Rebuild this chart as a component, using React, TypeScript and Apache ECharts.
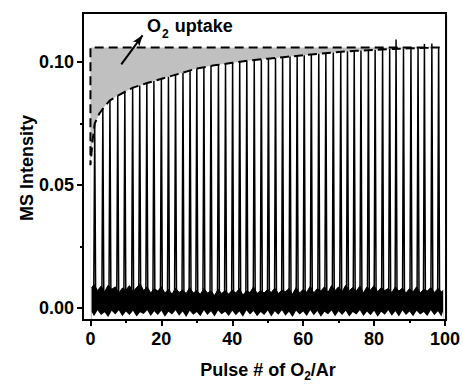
import React, { useEffect, useRef } from "react";
import * as echarts from "echarts";

// ---- data ----
const pulseX = [
  1.2, 3.5, 5.5, 7.7, 9.7, 11.9, 13.9, 15.9, 17.9, 20.0,
  22.0, 24.0, 26.1, 28.1, 30.0, 32.0, 34.0, 36.1, 38.1, 40.1,
  42.1, 44.1, 46.2, 48.2, 50.2, 52.2, 54.2, 56.3, 58.3, 60.3,
  62.3, 64.4, 66.4, 68.5, 70.6, 72.5, 74.4, 76.3, 78.4, 80.3,
  82.4, 84.4, 86.2, 88.3, 90.4, 92.4, 94.2, 96.3, 98.2,
];
const pulsePeak = [
  0.075, 0.081, 0.0844, 0.0864, 0.0879, 0.0895, 0.0905, 0.0915, 0.0923, 0.0932,
  0.094, 0.0948, 0.0957, 0.0966, 0.0974, 0.0979, 0.0984, 0.0989, 0.0993, 0.0997,
  0.1001, 0.1005, 0.1009, 0.1011, 0.1014, 0.1017, 0.102, 0.1023, 0.1026, 0.1028,
  0.1031, 0.1034, 0.1037, 0.1039, 0.1042, 0.1044, 0.1045, 0.1047, 0.1049, 0.105,
  0.1051, 0.1053, 0.1092, 0.1055, 0.1056, 0.1057, 0.1074, 0.1076, 0.1062,
];
const pulseBase = 0.002;

const envelopeX = [0, 0.6, 1.2, 2.5, 4, 5.5, 8, 12, 16, 21.5, 26, 30, 35, 40, 45, 50, 55, 60, 65, 70, 75, 80, 85, 90, 95, 98.5];
const envelopeY = [0.058, 0.068, 0.075, 0.079, 0.082, 0.0844, 0.0866, 0.0896, 0.0915, 0.0938, 0.0957, 0.0974, 0.0987, 0.0997, 0.1007, 0.1014, 0.1021, 0.1028, 0.1035, 0.1041, 0.1046, 0.105, 0.1053, 0.1056, 0.1058, 0.106];

const uptakeX = [0, 98.5];
const uptakeY = [0.106, 0.106];

const noiseX = [
  0.3, 1, 2, 3, 4, 5, 6, 7, 8, 9,
  10, 11, 12, 13, 14, 15, 16, 17, 18, 19,
  20, 21, 22, 23, 24, 25, 26, 27, 28, 29,
  30, 31, 32, 33, 34, 35, 36, 37, 38, 39,
  40, 41, 42, 43, 44, 45, 46, 47, 48, 49,
  50, 51, 52, 53, 54, 55, 56, 57, 58, 59,
  60, 61, 62, 63, 64, 65, 66, 67, 68, 69,
  70, 71, 72, 73, 74, 75, 76, 77, 78, 79,
  80, 81, 82, 83, 84, 85, 86, 87, 88, 89,
  90, 91, 92, 93, 94, 95, 96, 97, 98, 99,
  99.5,
];
const noiseTop = [
  0.008, 0.0095, 0.007, 0.0088, 0.0065, 0.0092, 0.0075, 0.0085, 0.006, 0.008,
  0.0072, 0.009, 0.0065, 0.0082, 0.0098, 0.007, 0.0085, 0.006, 0.0078, 0.0068,
  0.0085, 0.006, 0.0075, 0.0055, 0.008, 0.0062, 0.0072, 0.0058, 0.0082, 0.006,
  0.007, 0.0055, 0.0078, 0.006, 0.0068, 0.005, 0.0075, 0.0058, 0.007, 0.0055,
  0.0072, 0.006, 0.0078, 0.0052, 0.0068, 0.0062, 0.0085, 0.0058, 0.007, 0.006,
  0.0075, 0.0062, 0.008, 0.0058, 0.0072, 0.0065, 0.0078, 0.0055, 0.0082, 0.006,
  0.0075, 0.0063, 0.0088, 0.006, 0.0078, 0.0068, 0.0085, 0.0062, 0.009, 0.007,
  0.0085, 0.0065, 0.0092, 0.007, 0.0082, 0.0068, 0.0088, 0.006, 0.0085, 0.0072,
  0.009, 0.0065, 0.0082, 0.007, 0.0078, 0.0062, 0.0085, 0.0068, 0.008, 0.006,
  0.0078, 0.0065, 0.0085, 0.006, 0.0075, 0.0068, 0.0082, 0.0062, 0.0078, 0.0065,
  0.007,
];
const noiseBottom = [
  -0.0015, -0.0035, -0.001, -0.003, -0.0018, -0.0038, -0.0012, -0.0028, -0.001, -0.0035,
  -0.0015, -0.003, -0.0012, -0.0036, -0.0018, -0.0026, -0.001, -0.0034, -0.0014, -0.003,
  -0.0012, -0.0037, -0.0016, -0.0028, -0.001, -0.0033, -0.0015, -0.0038, -0.0012, -0.0029,
  -0.0017, -0.0035, -0.001, -0.003, -0.0014, -0.0036, -0.0011, -0.0027, -0.0016, -0.0034,
  -0.0012, -0.0031, -0.0015, -0.0037, -0.001, -0.0028, -0.0013, -0.0035, -0.0017, -0.003,
  -0.0011, -0.0036, -0.0014, -0.0029, -0.001, -0.0033, -0.0016, -0.0038, -0.0012, -0.0028,
  -0.0015, -0.0034, -0.001, -0.0031, -0.0013, -0.0037, -0.0016, -0.0027, -0.0011, -0.0035,
  -0.0014, -0.003, -0.0012, -0.0036, -0.0017, -0.0028, -0.001, -0.0034, -0.0015, -0.0031,
  -0.0012, -0.0037, -0.0016, -0.0029, -0.001, -0.0033, -0.0014, -0.0036, -0.0011, -0.003,
  -0.0015, -0.0035, -0.0012, -0.0028, -0.0017, -0.0034, -0.001, -0.0031, -0.0014, -0.0036,
  -0.0012,
];

const xTicks = [0, 20, 40, 60, 80, 100];
const xMinorTicks = [10, 30, 50, 70, 90];
const yTicks = [0, 0.05, 0.1];
const yMinorTicks = [0.025, 0.075];

const arrowFrom = [8.7, 0.0991];
const arrowTo = [14.7, 0.1109];

const FONT = "'Liberation Sans', Arial, Helvetica, sans-serif";

export default function App() {
  const ref = useRef<HTMLDivElement>(null);

  useEffect(() => {
    document.body.style.margin = "0";
    const chart = echarts.init(ref.current!, null, { renderer: "svg" });

    const spikeHalf = 0.28;
    const spikeData: number[][] = [];
    pulseX.forEach((x, i) => {
      spikeData.push([x - spikeHalf, pulseBase]);
      spikeData.push([x, pulsePeak[i]]);
      spikeData.push([x + spikeHalf, pulseBase]);
    });

    const envelope = envelopeX.map((x, i) => [x, envelopeY[i]]);
    const boundary = [
      [uptakeX[1], uptakeY[1]],
      [uptakeX[0], uptakeY[0]],
      ...envelope,
    ];

    const tickLabel = {
      fontSize: 18,
      fontWeight: "bold" as const,
      fontFamily: FONT,
      color: "#000",
    };

    const option: any = {
      animation: false,
      backgroundColor: "#fff",
      grid: {
        left: 83,
        top: 13,
        width: 363.5,
        height: 307,
        show: true,
        borderColor: "#000",
        borderWidth: 2,
        backgroundColor: "transparent",
      },
      xAxis: [
        {
          type: "value",
          min: -2.1,
          max: 100.3,
          position: "bottom",
          z: 10,
          axisLine: { show: true, onZero: false, lineStyle: { color: "#000", width: 2 } },
          axisTick: { show: true, customValues: xTicks, length: 6, lineStyle: { color: "#000", width: 2 } },
          axisLabel: { ...tickLabel, customValues: xTicks, margin: 10 },
          splitLine: { show: false },
        },
        {
          type: "value",
          min: -2.1,
          max: 100.3,
          position: "bottom",
          z: 10,
          axisLine: { show: false, onZero: false },
          axisTick: { show: true, customValues: xMinorTicks, length: 3, lineStyle: { color: "#000", width: 2 } },
          axisLabel: { show: false },
          splitLine: { show: false },
        },
      ],
      yAxis: [
        {
          type: "value",
          min: -0.005,
          max: 0.12,
          position: "left",
          z: 10,
          axisLine: { show: true, onZero: false, lineStyle: { color: "#000", width: 2 } },
          axisTick: { show: true, customValues: yTicks, length: 6, lineStyle: { color: "#000", width: 2 } },
          axisLabel: {
            ...tickLabel,
            customValues: yTicks,
            margin: 9,
            formatter: (v: number) => v.toFixed(2),
          },
          splitLine: { show: false },
        },
        {
          type: "value",
          min: -0.005,
          max: 0.12,
          position: "left",
          z: 10,
          axisLine: { show: false, onZero: false },
          axisTick: { show: true, customValues: yMinorTicks, length: 3, lineStyle: { color: "#000", width: 2 } },
          axisLabel: { show: false },
          splitLine: { show: false },
        },
      ],
      series: [
        {
          name: "uptake",
          type: "line",
          data: uptakeX.map((x, i) => [x, uptakeY[i]]),
          symbol: "none",
          lineStyle: { width: 0 },
          areaStyle: { color: "#c0c0c0", opacity: 1, origin: "start" },
          z: 1,
          silent: true,
        },
        {
          name: "envelopeFill",
          type: "line",
          data: envelope,
          symbol: "none",
          lineStyle: { width: 0 },
          areaStyle: { color: "#ffffff", opacity: 1, origin: "start" },
          z: 2,
          silent: true,
        },
        {
          name: "noiseTop",
          type: "line",
          data: noiseX.map((x, i) => [x, noiseTop[i]]),
          symbol: "none",
          lineStyle: { width: 1, color: "#000" },
          areaStyle: { color: "#000", opacity: 1, origin: "start" },
          z: 3,
          silent: true,
        },
        {
          name: "noiseBottom",
          type: "line",
          data: noiseX.map((x, i) => [x, noiseBottom[i]]),
          symbol: "none",
          lineStyle: { width: 0 },
          areaStyle: { color: "#fff", opacity: 1, origin: "start" },
          z: 3,
          silent: true,
        },
        {
          name: "pulses",
          type: "line",
          data: spikeData,
          symbol: "none",
          lineStyle: { width: 1.5, color: "#000" },
          z: 4,
          silent: true,
        },
        {
          name: "boundary",
          type: "line",
          data: boundary,
          symbol: "none",
          lineStyle: { width: 2, color: "#000", type: [9, 5] },
          z: 5,
          silent: true,
          markLine: {
            silent: true,
            symbol: ["none", "arrow"],
            symbolSize: [6, 11],
            label: { show: false },
            lineStyle: { color: "#000", width: 2, type: "solid" },
            data: [[{ coord: arrowFrom }, { coord: arrowTo }]],
          },
        },
      ],
      graphic: [
        {
          type: "text",
          left: 147,
          top: 12,
          z: 20,
          style: {
            text: "{a|O}{s|2}{a| uptake}",
            fill: "#000",
            rich: {
              a: { fontSize: 18, fontWeight: "bold", fontFamily: FONT, lineHeight: 18, fill: "#000" },
              s: { fontSize: 12, fontWeight: "bold", fontFamily: FONT, lineHeight: 12, padding: [16, 1, 0, 1], fill: "#000" },
            },
          },
        },
        {
          type: "text",
          x: 27,
          y: 168,
          rotation: Math.PI / 2,
          z: 20,
          style: {
            text: "MS Intensity",
            fontSize: 18,
            fontWeight: "bold",
            fontFamily: FONT,
            fill: "#000",
            align: "center",
            verticalAlign: "middle",
          },
        },
        {
          type: "text",
          x: 268,
          y: 370,
          z: 20,
          style: {
            text: "{a|Pulse # of O}{s|2}{a|/Ar}",
            fill: "#000",
            align: "center",
            verticalAlign: "middle",
            rich: {
              a: { fontSize: 18, fontWeight: "bold", fontFamily: FONT, lineHeight: 18, fill: "#000" },
              s: { fontSize: 12, fontWeight: "bold", fontFamily: FONT, lineHeight: 12, padding: [12, 0, 0, 0], fill: "#000" },
            },
          },
        },
      ],
    };

    chart.setOption(option);
    return () => chart.dispose();
  }, []);

  return (
    <div
      ref={ref}
      style={{ position: "fixed", left: 0, top: 0, width: 463, height: 384 }}
    />
  );
}
